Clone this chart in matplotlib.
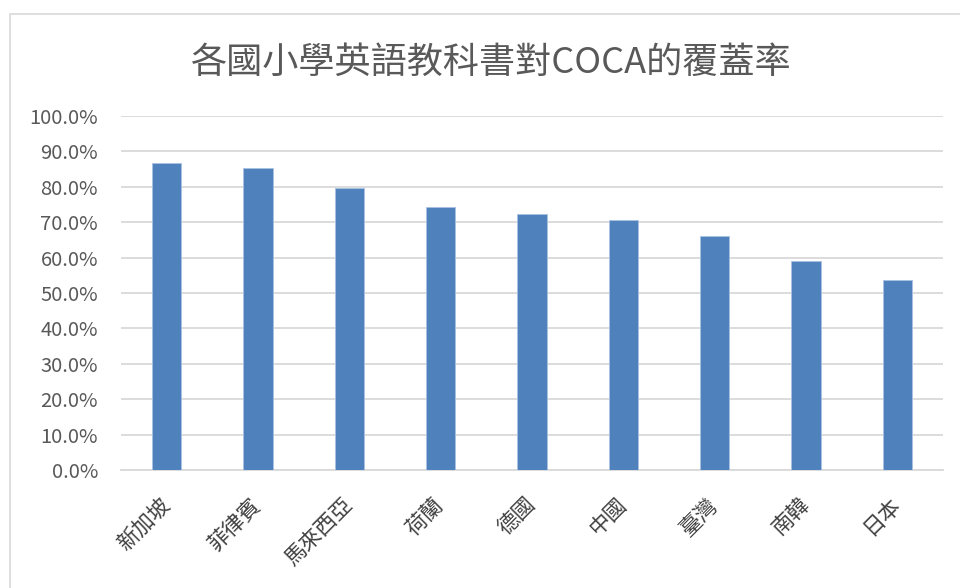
import matplotlib
matplotlib.use("Agg")
import matplotlib.pyplot as plt
from matplotlib.patches import Rectangle
from matplotlib.ticker import FuncFormatter

plt.rcParams['font.family'] = ['Noto Sans CJK TC', 'DejaVu Sans']

countries = ['新加坡', '菲律賓', '馬來西亞', '荷蘭', '德國', '中國', '臺灣', '南韓', '日本']
coverage = [0.867, 0.854, 0.798, 0.743, 0.723, 0.707, 0.661, 0.590, 0.537]
title = '各國小學英語教科書對COCA的覆蓋率'

fig = plt.figure(figsize=(9.6, 5.88), dpi=100)
fig.patches.append(Rectangle((10/960, -0.1), 1.2, 1.1 - 14/588, transform=fig.transFigure,
                             fill=False, edgecolor='#d9d9d9', linewidth=1.2))
ax = fig.add_axes([121/960, 1 - 470/588, (943 - 121)/960, (470 - 116)/588])

x = range(len(countries))
ax.bar(x, coverage, width=0.32, color='#4f81bd', edgecolor='#a9c1e3', linewidth=0.6, zorder=3)
ax.set_xlim(-0.5, len(countries) - 0.5)
ax.set_ylim(0, 1.0)
ax.set_yticks([i / 10 for i in range(11)])
ax.yaxis.set_major_formatter(FuncFormatter(lambda v, p: f'{v*100:.1f}%'))
ax.grid(axis='y', color='#d9d9d9', linewidth=1.3, zorder=0)
ax.set_axisbelow(True)
for s in ['top', 'right', 'left']:
    ax.spines[s].set_visible(False)
ax.spines['bottom'].set_color('#d9d9d9')
ax.spines['bottom'].set_linewidth(1.3)
ax.tick_params(axis='both', length=0, colors='#595959', labelsize=14.5)
ax.tick_params(axis='y', pad=16.5)
ax.set_xticks(list(x))
ax.set_xticklabels(countries, rotation=45, ha='right', va='center', rotation_mode='anchor',
                   fontsize=15.5, color='#404040', fontweight='light')
for lab in ax.get_xticklabels():
    lab.set_y(-0.075)

fig.text(491/960, 1 - 63/588, title, ha='center', va='center', fontsize=26,
         color='#595959', fontweight='light')

fig.savefig('out.png', dpi=100)
